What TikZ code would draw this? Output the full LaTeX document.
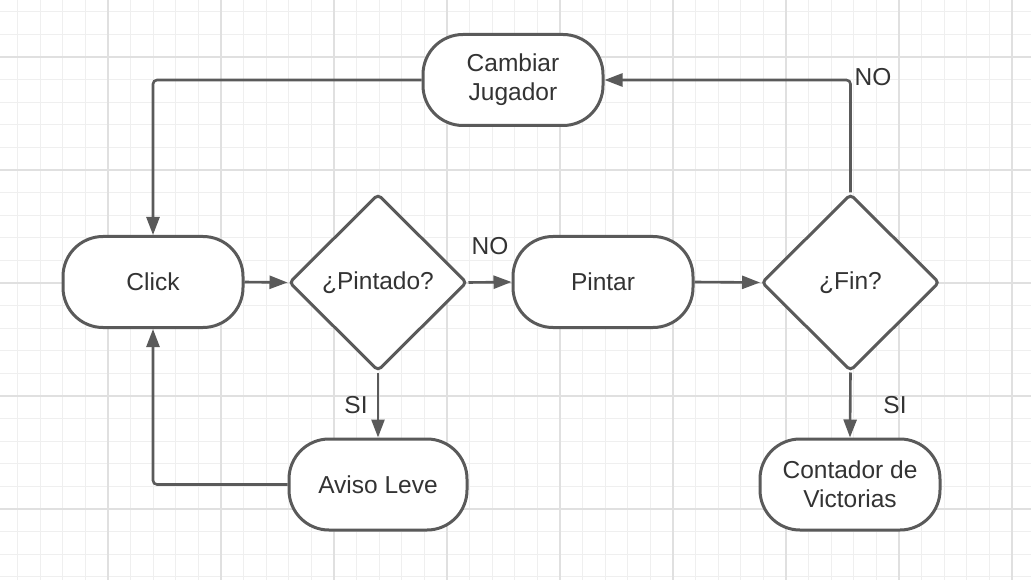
\documentclass[tikz,border=0pt]{standalone}
\usepackage{fontspec}
\setmainfont{Liberation Sans}
\usetikzlibrary{shapes.geometric,arrows.meta}
\definecolor{ln}{HTML}{5A5A5A}
\definecolor{tx}{HTML}{333333}
\definecolor{gminor}{HTML}{EFEFEF}
\definecolor{gmajor}{HTML}{E0E0E0}
\begin{document}
\begin{tikzpicture}[x=1pt,y=-1pt,
  every node/.style={font=\fontsize{24.5}{29}\selectfont, text=tx},
  term/.style={draw=ln, line width=3pt, fill=white, rounded corners=40pt, minimum width=180pt, minimum height=91pt, align=center, inner sep=0pt},
  dec/.style={draw=ln, line width=3pt, fill=white, diamond, aspect=1, minimum width=178pt, minimum height=177pt, rounded corners=4pt, inner sep=0pt},
  arr/.style={draw=ln, line width=2.6pt, -{Triangle[length=18pt,width=13pt]}},
  lbl/.style={fill=none}]
\useasboundingbox (0,0) rectangle (1031,580);
\fill[white] (0,0) rectangle (1031,580);
% grid
\foreach \i in {0,...,45} {
  \draw[gminor, line width=1.2pt] ({17.6+22.6*\i},0) -- ({17.6+22.6*\i},580);
}
\foreach \i in {0,...,26} {
  \draw[gminor, line width=1.2pt] (0,{11.8+22.6*\i}) -- (1031,{11.8+22.6*\i});
}
\foreach \i in {0,...,8} {
  \draw[gmajor, line width=1.4pt] ({108+113*\i},0) -- ({108+113*\i},580);
}
\foreach \i in {0,...,4} {
  \draw[gmajor, line width=1.4pt] (0,{57+113*\i}) -- (1031,{57+113*\i});
}
% nodes
\node[term] (cj) at (513,80) {Cambiar\\Jugador};
\node[term] (click) at (153,282) {Click};
\node[dec] (pin) at (378,282.5) {¿Pintado?};
\node[term] (pintar) at (603,282) {Pintar};
\node[dec] (fin) at (850.5,282.5) {¿Fin?};
\node[term, minimum width=178pt] (aviso) at (378,484.5) {Aviso Leve};
\node[term] (cont) at (850,484.5) {Contador de\\Victorias};
% edges
\draw[arr, rounded corners=4pt] (cj.west) -| (click.north);
\draw[arr] (click.east) -- (pin.west);
\draw[arr] (pin.east) -- (pintar.west);
\draw[arr] (pin.south) -- (aviso.north);
\draw[arr, rounded corners=4pt] (aviso.west) -| (click.south);
\draw[arr] (pintar.east) -- (fin.west);
\draw[arr, rounded corners=4pt] (fin.north) |- (cj.east);
\draw[arr] (fin.south) -- (cont.north);
% labels
\node[lbl] (l1) at (490,246) {NO};
\node[lbl] (l2) at (356,405) {SI};
\node[lbl] (l3) at (873,77) {NO};
\node[lbl] (l4) at (895,405) {SI};
\end{tikzpicture}
\end{document}
